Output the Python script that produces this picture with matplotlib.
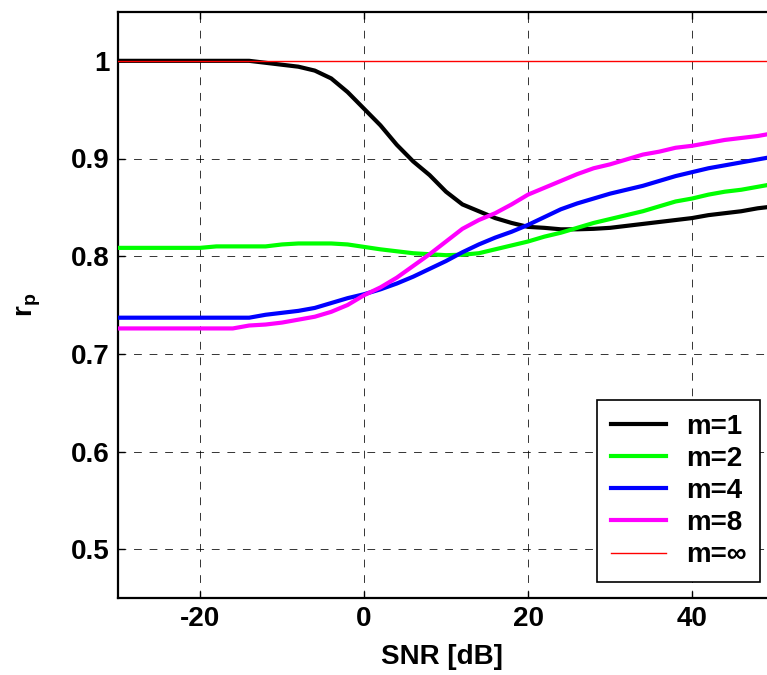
# r_p от SNR для разных m
import numpy as np
import matplotlib.pyplot as plt

plt.rcParams['font.family'] = ['Liberation Sans', 'DejaVu Sans']
plt.rcParams['font.weight'] = 'bold'
plt.rcParams['mathtext.fontset'] = 'custom'
plt.rcParams['mathtext.bf'] = 'Liberation Sans:bold'
plt.rcParams['mathtext.rm'] = 'Liberation Sans:bold'
plt.rcParams['axes.unicode_minus'] = False

# данные
snr = list(range(-30, 51, 2))
r_m1 = [1.0, 1.0, 1.0, 1.0, 1.0, 1.0, 1.0, 1.0, 1.0, 0.998, 0.996, 0.994, 0.990,
        0.982, 0.968, 0.951, 0.934, 0.914, 0.897, 0.883, 0.866, 0.853, 0.846,
        0.839, 0.834, 0.830, 0.829, 0.8275, 0.8275, 0.828, 0.829, 0.831, 0.833,
        0.835, 0.837, 0.839, 0.842, 0.844, 0.846, 0.849, 0.851]
r_m2 = [0.8085, 0.8085, 0.8085, 0.8085, 0.8085, 0.8085, 0.810, 0.810, 0.810,
        0.810, 0.812, 0.813, 0.813, 0.813, 0.812, 0.8095, 0.807, 0.805, 0.803,
        0.802, 0.801, 0.8015, 0.803, 0.807, 0.811, 0.815, 0.820, 0.824, 0.829,
        0.834, 0.838, 0.842, 0.846, 0.851, 0.856, 0.859, 0.863, 0.866, 0.868,
        0.871, 0.874]
r_m4 = [0.737, 0.737, 0.737, 0.737, 0.737, 0.737, 0.737, 0.737, 0.737, 0.740,
        0.742, 0.744, 0.747, 0.752, 0.757, 0.761, 0.766, 0.772, 0.779, 0.787,
        0.795, 0.804, 0.812, 0.819, 0.825, 0.832, 0.840, 0.848, 0.854, 0.859,
        0.864, 0.868, 0.872, 0.877, 0.882, 0.886, 0.890, 0.893, 0.896, 0.899,
        0.902]
r_m8 = [0.726, 0.726, 0.726, 0.726, 0.726, 0.726, 0.726, 0.726, 0.729, 0.730,
        0.732, 0.735, 0.738, 0.743, 0.750, 0.760, 0.768, 0.778, 0.790, 0.802,
        0.815, 0.828, 0.837, 0.844, 0.853, 0.863, 0.870, 0.877, 0.884, 0.890,
        0.894, 0.899, 0.904, 0.907, 0.911, 0.913, 0.916, 0.919, 0.921, 0.923,
        0.926]
r_inf = [1.0] * len(snr)

labels = ['m=1', 'm=2', 'm=4', 'm=8', 'm=∞']
colors = ['black', '#00ff00', 'blue', 'magenta', 'red']

fig = plt.figure(figsize=(7.67, 6.75), dpi=100)
ax = fig.add_axes([118 / 767, 77 / 675, 656 / 767, 586 / 675])

for y, lab, c in zip([r_m1, r_m2, r_m4, r_m8], labels[:4], colors[:4]):
    ax.plot(snr, y, color=c, linewidth=3.0, label=lab, zorder=3)
ax.plot(snr, r_inf, color=colors[4], linewidth=1.0, label=labels[4], zorder=4)

ax.set_xlim(-30, 50)
ax.set_ylim(0.45, 1.05)
ax.set_xticks([-20, 0, 20, 40])
ax.set_yticks([0.5, 0.6, 0.7, 0.8, 0.9, 1.0])
ax.set_yticklabels(['0.5', '0.6', '0.7', '0.8', '0.9', '1'])
ax.tick_params(direction='in', length=5, width=1, labelsize=20, pad=6,
               top=True, right=True)
for s in ax.spines.values():
    s.set_linewidth(1.6)

ax.grid(True, color='black', linestyle=(0, (8, 8)), linewidth=0.7, alpha=0.8)
ax.set_axisbelow(True)

ax.set_xlabel('SNR [dB]', fontsize=20, fontweight='bold')
ax.xaxis.set_label_coords((442 - 118) / 656, -0.078)
ax.set_ylabel(r'r$_\mathbf{p}$', fontsize=20, fontweight='bold', labelpad=20)

leg = ax.legend(loc='lower right', bbox_to_anchor=(0.979, 0.027), borderaxespad=0,
                fontsize=20, fancybox=False, framealpha=1, edgecolor='black',
                handlelength=2.0, handletextpad=0.7, labelspacing=0.22,
                borderpad=0.5)
leg.get_frame().set_linewidth(1.2)

fig.savefig('out.png', dpi=100)
